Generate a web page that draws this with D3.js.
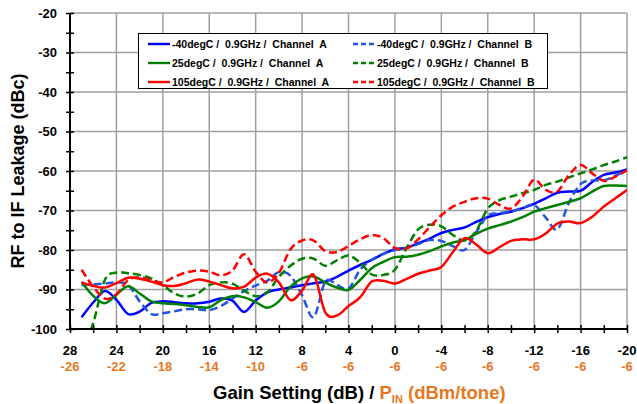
<!DOCTYPE html>
<html>
<head>
<meta charset="utf-8">
<script src="https://cdn.jsdelivr.net/npm/d3@7"></script>
<style>
  body { margin: 0; background: #fff; }
  svg { display: block; font-family: "Liberation Sans", Arial, sans-serif; font-weight: bold; }
  text { white-space: pre; }
</style>
</head>
<body>
<svg id="chart" width="637" height="404"></svg>
<script>
// Gain setting (dB) for every measured point
const gains = [27, 26, 25, 24, 23, 22, 21, 20, 19, 18, 17, 16, 15, 14, 13, 12, 11, 10, 9, 8, 7, 6, 5, 4, 3, 2, 1, 0,
  -1, -2, -3, -4, -5, -6, -7, -8, -9, -10, -11, -12, -13, -14, -15, -16, -17, -18, -19, -20];

// RF to IF leakage (dBc), one array per temperature / channel
const leakM40A = [-97.0, -93.3, -90.4, -92.6, -96.2, -95.6, -93.4, -93.0, -93.2, -93.5, -93.5, -93.1, -92.3, -92.8, -95.7, -92.8,
  -90.7, -90.0, -89.5, -88.9, -88.4, -88.0, -86.8, -85.2, -83.8, -82.5, -81.0, -79.8,
  -79.4, -78.3, -77.1, -75.7, -74.9, -74.3, -72.9, -71.7, -70.9, -70.3, -69.4, -68.3, -66.9, -65.5, -65.2, -65.0, -62.8, -61.0, -60.4, -59.6];
const leakM40B = [-88.9, -88.7, -88.5, -88.2, -88.8, -93.0, -96.2, -96.0, -95.5, -95.0, -95.0, -95.2, -94.2, -92.3, -90.4, -89.0,
  -87.8, -85.6, -86.5, -91.5, -97.0, -88.0, -88.8, -89.8, -85.0, -82.5, -81.0, -80.0,
  -79.5, -78.5, -77.5, -77.7, -79.0, -80.0, -75.5, -71.3, -70.7, -70.2, -69.4, -68.6, -71.8, -74.8, -68.0, -63.3, -62.4, -62.4, -61.2, -59.8];
const leak25A = [-88.1, -91.6, -93.5, -91.3, -89.2, -91.0, -93.0, -93.5, -93.7, -94.0, -94.4, -94.5, -92.7, -91.7, -92.0, -93.2,
  -94.6, -93.0, -89.3, -87.2, -86.7, -88.2, -89.5, -90.1, -87.6, -84.6, -83.0, -81.8,
  -81.7, -81.2, -80.3, -79.1, -78.1, -77.5, -75.9, -74.6, -73.7, -72.8, -71.7, -70.3, -69.4, -68.6, -67.8, -66.9, -65.2, -63.8, -63.7, -63.8];
const leak25B = [-106.0, -98.5, -87.6, -85.7, -85.9, -86.3, -87.2, -88.9, -91.0, -91.8, -91.0, -88.9, -88.2, -88.5, -90.3, -91.7,
  -90.7, -86.8, -84.0, -82.2, -82.2, -84.0, -82.6, -81.4, -83.2, -86.2, -86.3, -85.0,
  -79.5, -74.8, -73.6, -74.0, -76.2, -77.6, -75.2, -69.5, -67.4, -66.5, -65.6, -64.8, -63.5, -62.7, -61.6, -60.6, -59.6, -58.5, -57.6, -56.5];
const leak105A = [-88.2, -89.1, -89.5, -88.4, -87.0, -87.3, -88.0, -88.9, -89.1, -88.4, -87.5, -88.0, -88.9, -89.7, -89.3, -87.0,
  -86.0, -88.2, -92.7, -90.3, -86.3, -95.8, -96.6, -94.2, -92.0, -88.0, -87.8, -88.5,
  -87.3, -86.0, -85.2, -84.3, -80.5, -77.0, -78.6, -80.8, -79.3, -77.7, -77.3, -77.3, -75.8, -73.3, -72.8, -73.2, -71.6, -69.0, -66.9, -64.8];
const leak105B = [-85.0, -89.3, -92.3, -91.2, -87.6, -86.9, -87.6, -88.2, -86.8, -85.7, -85.2, -85.5, -86.4, -85.2, -81.1, -85.5,
  -88.2, -85.8, -79.8, -77.6, -77.6, -80.3, -80.5, -79.0, -77.3, -76.2, -77.0, -79.5,
  -79.6, -77.3, -74.2, -71.2, -69.0, -67.8, -66.9, -67.0, -68.6, -69.5, -66.5, -62.2, -64.8, -65.2, -61.0, -58.5, -60.6, -62.5, -61.4, -59.8];

// Axis ticks
const gainTicks = [28, 24, 20, 16, 12, 8, 4, 0, -4, -8, -12, -16, -20];
const pinLabels = [-26, -22, -18, -14, -10, -6, -6, -6, -6, -6, -6, -6, -6];
const leakTicks = [-20, -30, -40, -50, -60, -70, -80, -90, -100];

const seriesNames = [
  "-40degC /  0.9GHz /  Channel  A", "-40degC /  0.9GHz /  Channel  B",
  "25degC /  0.9GHz /  Channel  A", "25degC /  0.9GHz /  Channel  B",
  "105degC /  0.9GHz /  Channel  A", "105degC /  0.9GHz /  Channel  B"
];
const seriesValues = [leakM40A, leakM40B, leak25A, leak25B, leak105A, leak105B];
const seriesColors = ["#0000ff", "#2255e0", "#008000", "#008000", "#ff0000", "#ff0000"];
const seriesDashed = [false, true, false, true, false, true];

const orange = "#e8771e";
const svg = d3.select("#chart");

const x = d3.scaleLinear().domain([28, -20]).range([70, 627]);
const y = d3.scaleLinear().domain([-100, -20]).range([329, 13]);
const [x0, x1] = x.range();
const [yb, yt] = y.range();

// grid
const grid = svg.append("g").attr("stroke", "#a0a0a0").attr("stroke-width", 1.5);
grid.selectAll("line.h").data(leakTicks.filter(d => d > -100)).join("line")
  .attr("x1", x0).attr("x2", x1).attr("y1", d => y(d)).attr("y2", d => y(d));
grid.selectAll("line.v").data(gainTicks.filter(d => d < 28)).join("line")
  .attr("y1", yt).attr("y2", yb).attr("x1", d => x(d)).attr("x2", d => x(d));

// clip the traces to the plot area
svg.append("clipPath").attr("id", "plot-clip").append("rect")
  .attr("x", x0).attr("y", yt).attr("width", x1 - x0).attr("height", yb - yt);

const line = d3.line()
  .x(d => x(d[0]))
  .y(d => y(d[1]))
  .curve(d3.curveCardinal.tension(0));

const traces = svg.append("g").attr("clip-path", "url(#plot-clip)");
seriesValues.forEach((vals, i) => {
  traces.append("path")
    .datum(gains.map((g, j) => [g, vals[j]]))
    .attr("fill", "none")
    .attr("stroke", seriesColors[i])
    .attr("stroke-width", 2.5)
    .attr("stroke-dasharray", seriesDashed[i] ? "8,4" : null)
    .attr("d", line);
});

// axes
const minorY = d3.range(-100, -19, 5);
const yAxis = svg.append("g").attr("transform", `translate(${x0},0)`)
  .call(d3.axisLeft(y).tickValues(minorY).tickSize(4).tickPadding(9)
    .tickFormat(d => d % 10 === 0 ? d : ""));
yAxis.select(".domain").remove();
yAxis.selectAll(".tick line").attr("x1", 4).attr("x2", -4).attr("stroke", "#000").attr("stroke-width", 1.5);
yAxis.selectAll(".tick text").attr("font-size", 13).attr("font-family", "Liberation Sans, Arial, sans-serif")
  .attr("font-weight", "bold").attr("fill", "#000");

const minorX = d3.range(28, -21, -2);
const xAxis = svg.append("g").attr("transform", `translate(0,${yb})`)
  .call(d3.axisBottom(x).tickValues(minorX).tickSize(4).tickFormat(""));
xAxis.select(".domain").remove();
xAxis.selectAll(".tick line").attr("y1", -4).attr("y2", 4).attr("stroke", "#000").attr("stroke-width", 1.5);

svg.append("line").attr("x1", x0).attr("x2", x0).attr("y1", yt).attr("y2", yb + 1)
  .attr("stroke", "#000").attr("stroke-width", 2);
svg.append("line").attr("x1", x0 - 1).attr("x2", x1).attr("y1", yb).attr("y2", yb)
  .attr("stroke", "#000").attr("stroke-width", 2);

// two rows of x labels: gain setting and input power
svg.append("g").selectAll("text").data(gainTicks).join("text")
  .attr("x", d => x(d)).attr("y", 355).attr("text-anchor", "middle")
  .attr("font-size", 13).attr("fill", "#000").text(d => d);
svg.append("g").selectAll("text").data(pinLabels).join("text")
  .attr("x", (d, i) => x(gainTicks[i])).attr("y", 371).attr("text-anchor", "middle")
  .attr("font-size", 13).attr("fill", orange).text(d => d);

// axis titles
svg.append("text")
  .attr("transform", `translate(24,${(yt + yb) / 2}) rotate(-90)`)
  .attr("text-anchor", "middle").attr("font-size", 18).attr("fill", "#000")
  .text("RF to IF Leakage (dBc)");

const xt = svg.append("text").attr("x", 213).attr("y", 399).attr("font-size", 18.5).attr("fill", "#000");
xt.append("tspan").text("Gain Setting (dB) / ");
xt.append("tspan").attr("fill", orange).text("P");
xt.append("tspan").attr("fill", orange).attr("font-size", 11).attr("dy", 4).text("IN");
xt.append("tspan").attr("fill", orange).attr("dy", -4).text(" (dBm/tone)");

// legend
const lg = svg.append("g");
lg.append("rect").attr("x", 138.5).attr("y", 33.5).attr("width", 409).attr("height", 55)
  .attr("fill", "#fff").attr("stroke", "#000").attr("stroke-width", 1);
const legendCols = [148, 353];
const legendRows = [44, 63, 82];
seriesNames.forEach((name, i) => {
  const cx = legendCols[i % 2];
  const cy = legendRows[Math.floor(i / 2)];
  lg.append("line").attr("x1", cx).attr("x2", cx + 22).attr("y1", cy).attr("y2", cy)
    .attr("stroke", seriesColors[i]).attr("stroke-width", 2.4)
    .attr("stroke-dasharray", seriesDashed[i] ? "5,3" : null);
  lg.append("text").attr("x", cx + 24).attr("y", cy + 3.6).attr("font-size", 10.5)
    .attr("fill", "#000").text(name);
});
</script>
</body>
</html>
